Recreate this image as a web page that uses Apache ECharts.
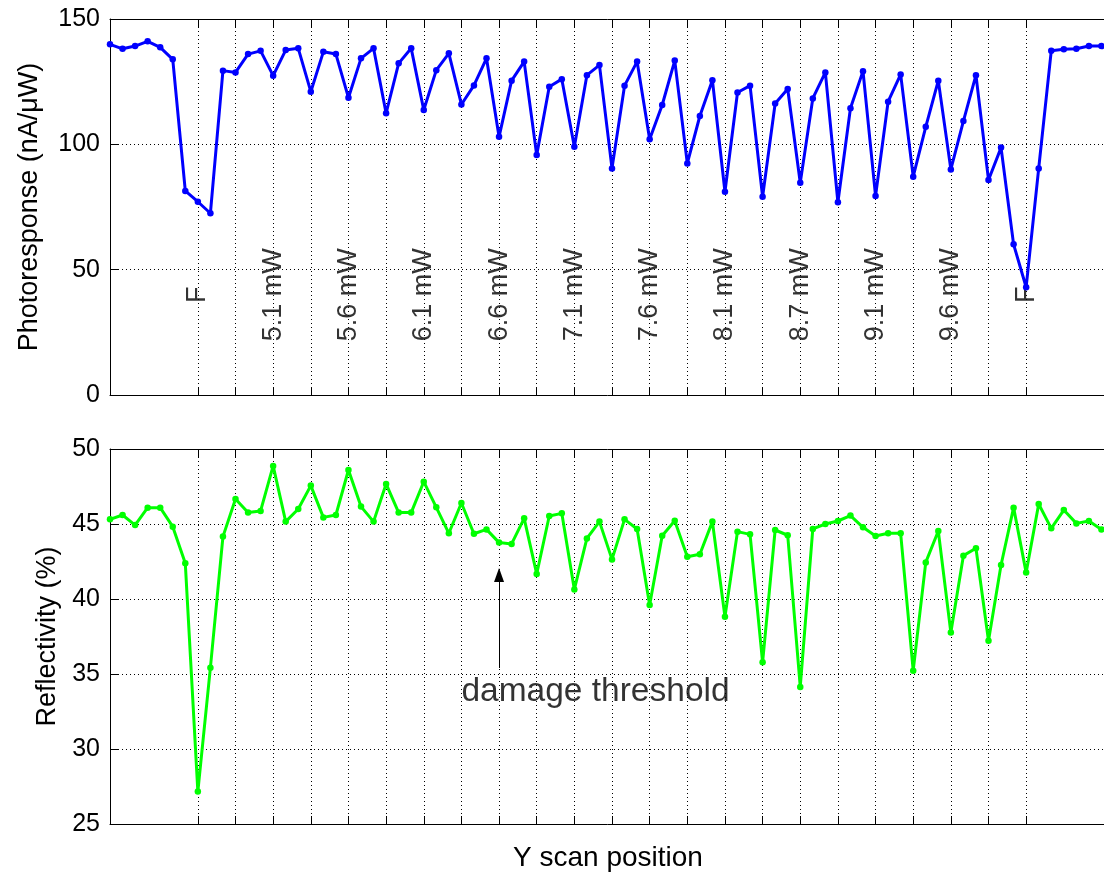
<!DOCTYPE html>
<html>
<head>
<meta charset="utf-8">
<script src="https://cdn.jsdelivr.net/npm/echarts@6/dist/echarts.min.js"></script>
<style>
html,body{margin:0;padding:0;background:#fff;}
#c{width:1104px;height:872px;}
</style>
</head>
<body>
<div id="c"></div>
<script>
// ---- data ----
const positions = Array.from({length: 81}, (_, i) => String(i)); // scan position index (categories)
const photoresponse = [139.9,138.1,139.2,141.1,138.7,133.9,81.4,77.1,72.5,129.4,
  128.7,136.0,137.3,127.4,137.6,138.3,121.0,136.9,136.0,118.6,
  134.3,138.3,112.4,132.3,138.3,113.7,129.6,136.3,115.9,123.5,
  134.3,103.0,125.4,133.0,95.7,123.0,126.0,99.0,127.6,131.6,
  90.4,123.4,133.0,102.0,115.7,133.4,92.4,111.3,125.6,81.1,
  120.7,123.4,79.1,116.3,122.1,84.7,118.3,128.7,76.9,114.4,
  129.2,79.4,117.0,127.9,87.1,107.0,125.4,90.0,109.3,127.6,
  85.8,98.7,60.1,43.0,90.4,137.3,137.9,138.1,139.2,139.2];
const reflectivity = [45.31,45.6,44.93,46.09,46.09,44.82,42.38,27.16,35.42,44.16,
  46.67,45.76,45.87,48.87,45.16,46.0,47.56,45.44,45.6,48.6,
  46.16,45.16,47.67,45.76,45.76,47.82,46.11,44.38,46.4,44.35,
  44.64,43.76,43.67,45.38,41.67,45.53,45.71,40.64,44.04,45.16,
  42.64,45.31,44.67,39.6,44.22,45.22,42.82,42.98,45.16,38.82,
  44.49,44.31,35.78,44.6,44.25,34.14,44.67,45.0,45.2,45.56,
  44.78,44.2,44.38,44.38,35.22,42.44,44.53,37.76,42.89,43.38,
  37.22,42.27,46.09,41.76,46.33,44.71,45.93,45.04,45.2,44.64];
const gridStart = 7, gridStep = 3, gridEnd = 73;      // x grid-line positions
const topTicks = [0, 150, 50];                         // min, max, interval
const bottomTicks = [25, 50, 5];
const powerPos = [7,13,19,25,31,37,43,49,55,61,67,73];
const powerText = ['F','5.1 mW','5.6 mW','6.1 mW','6.6 mW','7.1 mW','7.6 mW','8.1 mW','8.7 mW','9.1 mW','9.6 mW','F'];
const powerY = 40;
const thresholdPos = 31, thresholdFrom = 35.4, thresholdTo = 41.6;
const thresholdText = 'damage threshold', thresholdTextPos = [28, 33.8];

// ---- chart ----
const FONT = "'Liberation Sans', Arial, Helvetica, sans-serif";
const isGrid = (i) => i >= gridStart && i <= gridEnd && (i - gridStart) % gridStep === 0;
const dotted = {color: '#000', width: 1, type: [1, 3]};

function xAx(gridIndex, position, withSplit, extra) {
  return Object.assign({
    gridIndex, position, type: 'category', data: positions, boundaryGap: false,
    axisLine: {show: true, onZero: false, lineStyle: {color: '#000', width: 1}},
    axisTick: {show: true, inside: true, length: 8, interval: (i) => isGrid(i), lineStyle: {color: '#000'}},
    axisLabel: {show: false},
    splitLine: {show: withSplit, interval: (i) => isGrid(i), lineStyle: dotted}
  }, extra || {});
}
function yAx(gridIndex, t, name, gap) {
  return {
    gridIndex, type: 'value', min: t[0], max: t[1], interval: t[2],
    axisLine: {show: true, lineStyle: {color: '#000', width: 1}},
    axisTick: {show: true, inside: true, length: 8, lineStyle: {color: '#000'}},
    axisLabel: {color: '#000', fontSize: 25, fontFamily: FONT, margin: 10},
    splitLine: {show: true, lineStyle: dotted},
    name, nameLocation: 'middle', nameGap: gap,
    nameTextStyle: {color: '#000', fontSize: 27, fontFamily: FONT}
  };
}

const chart = echarts.init(document.getElementById('c'), null, {renderer: 'canvas'});
chart.setOption({
  animation: false,
  backgroundColor: '#fff',
  grid: [
    {left: 110, top: 19, width: 1004, height: 376, outerBoundsMode: 'none', containLabel: false},
    {left: 110, top: 449, width: 1004, height: 375, outerBoundsMode: 'none', containLabel: false}
  ],
  xAxis: [
    xAx(0, 'bottom', true),
    xAx(0, 'top', false),
    xAx(1, 'bottom', true, {name: 'Y scan position', nameLocation: 'middle', nameGap: 20,
      nameTextStyle: {color: '#000', fontSize: 28, fontFamily: FONT, padding: [0, 8, 0, 0]}}),
    xAx(1, 'top', false)
  ],
  yAxis: [
    yAx(0, topTicks, 'Photoresponse (nA/\u03bcW)', 67),
    yAx(1, bottomTicks, 'Reflectivity (%)', 47)
  ],
  series: [
    {type: 'line', xAxisIndex: 0, yAxisIndex: 0, data: photoresponse,
     color: '#0000ff', lineStyle: {width: 3, color: '#0000ff'},
     symbol: 'circle', symbolSize: 6.5, showSymbol: true, itemStyle: {color: '#0000ff'}, silent: true},
    {type: 'line', xAxisIndex: 2, yAxisIndex: 1, data: reflectivity,
     color: '#00ff00', lineStyle: {width: 3, color: '#00ff00'},
     symbol: 'circle', symbolSize: 6.5, showSymbol: true, itemStyle: {color: '#00ff00'}, silent: true,
     markLine: {silent: true, symbol: ['none', 'triangle'], symbolSize: [10, 14],
       lineStyle: {color: '#000', width: 1, type: 'solid'}, label: {show: false},
       data: [[{coord: [thresholdPos, thresholdFrom]}, {coord: [thresholdPos, thresholdTo]}]]}},
    {type: 'scatter', xAxisIndex: 0, yAxisIndex: 0, symbolSize: 0, silent: true,
     data: powerPos.map((p, i) => ({value: [p, powerY], name: powerText[i]})),
     label: {show: true, position: 'inside', rotate: 90, formatter: '{b}', color: '#000',
       fontSize: 27, fontFamily: FONT}},
    {type: 'scatter', xAxisIndex: 2, yAxisIndex: 1, symbolSize: 0, silent: true,
     data: [{value: thresholdTextPos, name: thresholdText}],
     label: {show: true, position: 'inside', align: 'left', verticalAlign: 'middle', formatter: '{b}',
       color: '#000', fontSize: 33.5, fontFamily: FONT}}
  ]
});
</script>
</body>
</html>
